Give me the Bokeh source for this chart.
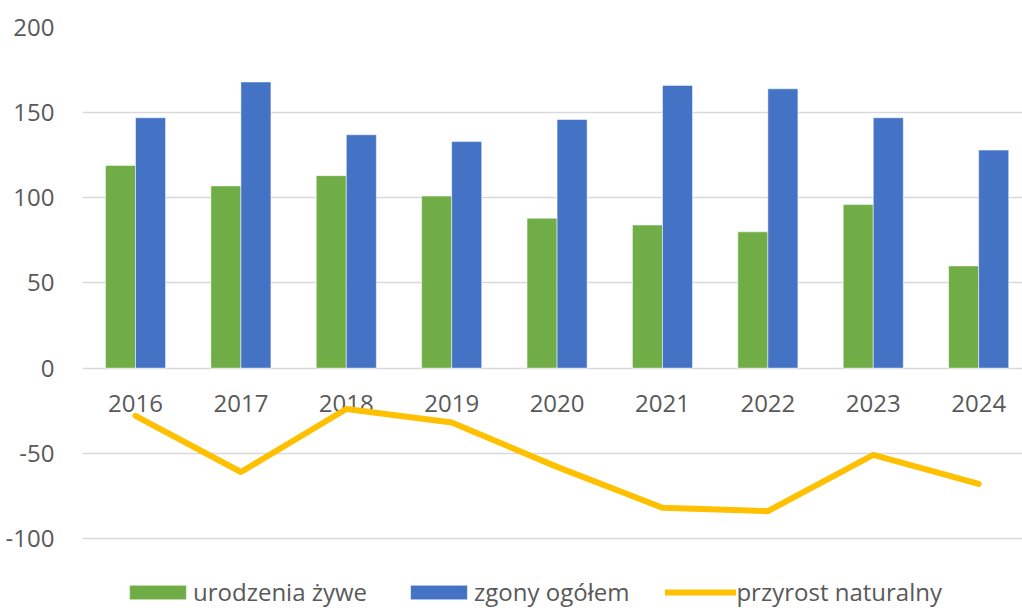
from bokeh.plotting import figure
from bokeh.models import ColumnDataSource, FixedTicker, Legend, LegendItem, Range1d
from bokeh.core.properties import value
from bokeh.embed import file_html
from bokeh.resources import INLINE

years = ["2016", "2017", "2018", "2019", "2020", "2021", "2022", "2023", "2024"]
urodzenia = [119, 107, 113, 101, 88, 84, 80, 96, 60]
zgony = [147, 168, 137, 133, 146, 166, 164, 147, 128]
przyrost = [-28, -61, -24, -32, -58, -82, -84, -51, -68]
y_ticks = [-100, -50, 0, 50, 100, 150, 200]
y_labels = {-100: "-100", -50: "-50", 0: "0", 50: "50", 100: "100", 150: "150", 200: "200"}

FONT = "Open Sans"
TXT = "#595959"
FS = "24px"

idx = list(range(len(years)))
bw = 0.285
src = ColumnDataSource(dict(
    x=idx,
    xg=[i - bw / 2 for i in idx],
    xb=[i + bw / 2 for i in idx],
    urodzenia=urodzenia,
    zgony=zgony,
    przyrost=przyrost,
    years=years,
    zero=[0] * len(years),
))

H = 608
TOP = 27
px_per_unit = 1.703
y_bottom = 200 - (H - TOP) / px_per_unit

p = figure(width=1022, height=H, output_backend="svg", toolbar_location=None,
           x_range=Range1d(-0.503, 8.416), y_range=Range1d(y_bottom, 200),
           x_axis_location=None, min_border_left=82, min_border_right=0,
           min_border_top=TOP, min_border_bottom=0, title=None)
p.outline_line_color = None
p.xgrid.visible = False
p.ygrid.grid_line_color = "#D9D9D9"
p.ygrid.grid_line_width = 1.5
p.ygrid.ticker = FixedTicker(ticks=y_ticks)

ax = p.yaxis[0]
ax.ticker = FixedTicker(ticks=y_ticks)
ax.major_label_overrides = y_labels
ax.axis_line_color = None
ax.major_tick_line_color = None
ax.minor_tick_line_color = None
ax.major_label_standoff = 22
ax.major_label_text_font = FONT
ax.major_label_text_font_size = FS
ax.major_label_text_color = TXT

rg = p.vbar(x="xg", top="urodzenia", bottom=0, width=bw, source=src,
            fill_color="#70AD47", line_color="#FFFFFF", line_alpha=0.5, line_width=1)
rb = p.vbar(x="xb", top="zgony", bottom=0, width=bw, source=src,
            fill_color="#4472C4", line_color="#FFFFFF", line_alpha=0.5, line_width=1)

p.text(x="x", y="zero", text="years", source=src, y_offset=35,
       text_align="center", text_baseline="middle",
       text_font=value(FONT), text_font_size=FS, text_color=TXT)

rl = p.line(x="x", y="przyrost", source=src, line_color="#FFC000", line_width=6,
            line_join="round", line_cap="round")

legend = Legend(items=[
    LegendItem(label="urodzenia żywe", renderers=[rg]),
    LegendItem(label="zgony ogółem", renderers=[rb]),
    LegendItem(label="przyrost naturalny", renderers=[rl]),
], orientation="horizontal", location=(40, 0))
legend.border_line_color = None
legend.background_fill_alpha = 0
legend.padding = 0
legend.margin = 0
legend.spacing = 36
legend.glyph_width = 71
legend.glyph_height = 18
legend.label_height = 20
legend.label_standoff = 0
legend.label_text_font = FONT
legend.label_text_font_size = FS
legend.label_text_color = TXT
p.add_layout(legend, "center")

open("out.html", "w").write(file_html(p, INLINE))
